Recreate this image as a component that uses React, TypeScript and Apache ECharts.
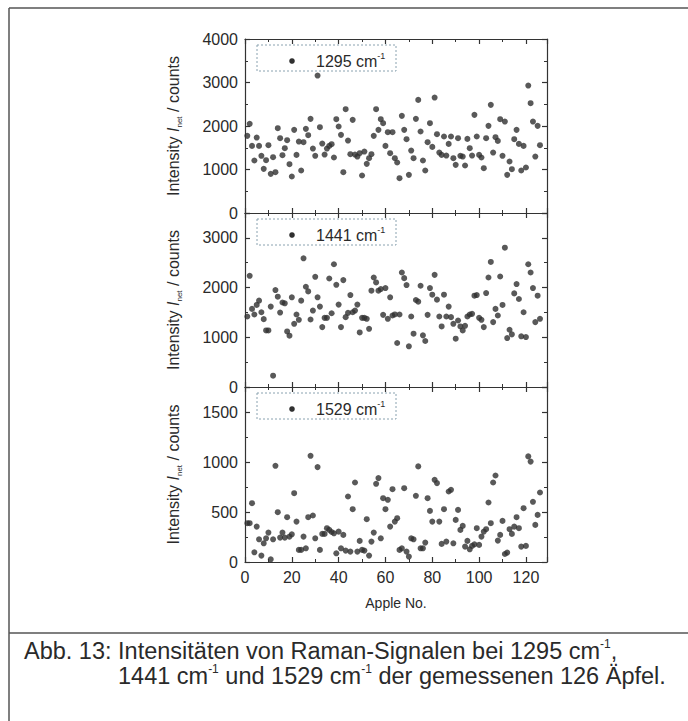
import React, { useEffect, useRef } from 'react';
import * as echarts from 'echarts';

const s1295 = [1773,2049,1543,1207,1735,1543,1314,1015,1214,1559,900,1283,938,1950,1720,1329,1490,1674,1122,839,1911,1336,1643,977,1628,1934,1789,2164,1482,1314,3160,1973,1597,1344,1482,1543,1582,1276,2156,1988,1796,938,2386,1666,1352,2141,1344,1298,1375,862,1413,1130,1260,1352,1773,2386,1911,2156,2064,1543,1858,1375,1858,1260,1161,801,2233,1911,1697,877,1436,1260,2164,2600,1873,1207,977,1628,2064,1520,2654,1812,1390,1336,1758,1321,1589,1758,1260,1107,1720,1314,1298,1092,1704,1490,1321,2256,1758,1336,1276,1030,1720,2003,2486,1390,1743,1658,2156,1314,2102,877,1184,1007,1697,1911,1589,977,1543,1046,2930,2524,2102,1298,2003,1559];

const s1441 = [1418,2236,1571,1458,1651,1737,1504,1365,1138,1138,1617,227,1950,1817,1498,1700,1684,1118,1032,1804,1271,1458,1351,1737,2589,2017,1923,1358,1538,2216,1804,1617,1205,1391,1391,2183,1484,2469,2056,1657,1205,2150,1405,1491,1850,1504,1538,1657,1098,1391,1391,1371,1171,1937,2203,2103,1937,1970,1451,1990,1371,1804,1438,1460,885,1458,2303,2190,2050,819,1418,1072,1750,1717,2037,1039,925,1451,1990,1857,2256,1757,1418,1218,1857,1418,1617,1405,1271,972,1338,1218,1138,1231,1418,1458,1471,1837,1850,1391,1351,1205,1890,2203,2516,1305,1571,1438,2223,1651,2802,985,1152,1059,1883,2070,1770,1019,1504,1005,2469,2303,1990,1305,1837,1371];

const s1529 = [388,388,588,97,354,227,64,187,237,294,27,227,962,498,244,294,244,448,254,277,688,404,121,121,254,137,448,1062,465,237,949,121,281,281,338,321,300,287,87,304,137,271,114,655,104,528,795,104,211,121,114,428,64,204,294,782,839,237,638,528,622,354,728,404,438,121,137,738,104,54,237,227,662,956,137,137,194,638,511,404,822,789,404,181,528,204,705,722,187,421,521,321,361,154,211,127,161,177,338,171,254,304,328,595,388,795,865,214,271,411,80,94,328,281,354,448,338,154,538,161,1056,1004,602,371,471,695];

const seriesNames = ['1295', '1441', '1529'];
const seriesValues = [s1295, s1441, s1529];
const yMax = [4000, 3500, 1750];
const yInterval = [1000, 1000, 500];
const xMax = 129;
const xInterval = 20;
const xName = 'Apple No.';
const captionLine1 = 'Abb. 13: Intensitäten von Raman-Signalen bei 1295 cm';
const captionLine2a = '1441 cm';
const captionLine2b = ' und 1529 cm';
const captionLine2c = ' der gemessenen 126 Äpfel.';

const FONT = '"Liberation Sans", Arial, Helvetica, sans-serif';
const INK = '#2a2a2a';

export default function App() {
  const ref = useRef<HTMLDivElement>(null);
  useEffect(() => {
    document.body.style.margin = '0';
    const chart = echarts.init(ref.current!, null, { renderer: 'svg' });
    const panelTops = [39, 213, 387];
    const panelHeights = [174, 174, 175];
    const gridLeft = 245;
    const gridWidth = 302;

    const grid: any[] = [];
    const xAxis: any[] = [];
    const yAxis: any[] = [];
    const series: any[] = [];
    const graphic: any[] = [];

    const axisLine = () => ({ show: true, onZero: false, lineStyle: { color: '#333', width: 1.2 } });
    const tick = () => ({ show: true, inside: true, length: 5, lineStyle: { color: '#333', width: 1.2 } });
    const minor = () => ({ show: true, splitNumber: 2, length: 3, lineStyle: { color: '#333', width: 1 } });
    const fmt = (v: number) => String(v);

    for (let p = 0; p < 3; p++) {
      grid.push({ left: gridLeft, width: gridWidth, top: panelTops[p], height: panelHeights[p], containLabel: false });
      const isLast = p === 2;
      xAxis.push({
        type: 'value', gridIndex: p, position: 'bottom', min: 0, max: xMax, interval: xInterval,
        axisLine: axisLine(), axisTick: tick(), minorTick: minor(), splitLine: { show: false },
        axisLabel: { show: isLast, showMaxLabel: false, formatter: fmt, fontSize: 16, fontFamily: FONT, color: INK, margin: 7 },
        name: isLast ? xName : '', nameLocation: 'middle', nameGap: 34,
        nameTextStyle: { fontSize: 14, fontFamily: FONT, color: INK },
      });
      xAxis.push({
        type: 'value', gridIndex: p, position: 'top', min: 0, max: xMax, interval: xInterval,
        axisLine: axisLine(), axisTick: tick(), minorTick: minor(), splitLine: { show: false }, axisLabel: { show: false },
      });
      yAxis.push({
        type: 'value', gridIndex: p, position: 'left', min: 0, max: yMax[p], interval: yInterval[p],
        axisLine: axisLine(), axisTick: tick(), minorTick: minor(), splitLine: { show: false },
        axisLabel: { showMaxLabel: p === 0, formatter: fmt, fontSize: 16, fontFamily: FONT, color: INK, margin: 7 },
        name: '{n|Intensity }{i|I}{s|net}{n| / counts}', nameLocation: 'middle', nameGap: 62,
        nameTextStyle: {
          fontFamily: FONT, color: INK,
          rich: {
            n: { fontSize: 16, fontFamily: FONT, color: INK, lineHeight: 20 },
            i: { fontSize: 16, fontFamily: FONT, color: INK, fontStyle: 'italic', lineHeight: 20 },
            s: { fontSize: 8, fontFamily: FONT, color: INK, verticalAlign: 'bottom', lineHeight: 12 },
          },
        },
      });
      yAxis.push({
        type: 'value', gridIndex: p, position: 'right', min: 0, max: yMax[p], interval: yInterval[p],
        axisLine: axisLine(), axisTick: tick(), minorTick: minor(), splitLine: { show: false }, axisLabel: { show: false },
      });
      series.push({
        type: 'scatter', name: seriesNames[p], xAxisIndex: p * 2, yAxisIndex: p * 2,
        symbol: 'circle', symbolSize: 6, itemStyle: { color: '#303030' },
        data: seriesValues[p].map((v, i) => [i + 1, v]),
      });
      const bt = panelTops[p] + 6;
      graphic.push({
        type: 'rect', shape: { x: 257, y: bt, width: 139, height: 26 },
        style: { fill: 'none', stroke: '#8aa2b0', lineWidth: 1, lineDash: [2, 2] },
      });
      graphic.push({ type: 'circle', shape: { cx: 292, cy: bt + 16, r: 2.8 }, style: { fill: '#303030' } });
      graphic.push({
        type: 'text', x: 316, y: bt + 16,
        style: {
          text: `{a|${seriesNames[p]} cm}{s|-1}`, verticalAlign: 'middle',
          rich: {
            a: { fontSize: 16, fontFamily: FONT, fill: INK, lineHeight: 20 },
            s: { fontSize: 9, fontFamily: FONT, fill: INK, verticalAlign: 'top', lineHeight: 10 },
          },
        },
      });
    }

    // frame
    const frame = { stroke: '#555', lineWidth: 1.5 };
    graphic.push({ type: 'line', shape: { x1: 9, y1: 8, x2: 700, y2: 8 }, style: frame });
    graphic.push({ type: 'line', shape: { x1: 9, y1: 8, x2: 9, y2: 721 }, style: frame });
    graphic.push({ type: 'line', shape: { x1: 9, y1: 633, x2: 700, y2: 633 }, style: frame });

    const capRich = {
      a: { fontSize: 23.5, fontFamily: FONT, fill: INK, lineHeight: 25 },
      s: { fontSize: 12, fontFamily: FONT, fill: INK, verticalAlign: 'top', lineHeight: 20 },
      ind: { fontSize: 23.5, width: 94, lineHeight: 25 },
    };
    graphic.push({
      type: 'text', x: 24, y: 638,
      style: {
        text: `{a|${captionLine1}}{s|-1}{a|,}\n{ind| }{a|${captionLine2a}}{s|-1}{a|${captionLine2b}}{s|-1}{a|${captionLine2c}}`,
        verticalAlign: 'top', rich: capRich,
      },
    });

    chart.setOption({
      animation: false,
      backgroundColor: '#fff',
      grid, xAxis, yAxis, series, graphic,
    });
    return () => chart.dispose();
  }, []);
  return <div ref={ref} style={{ width: 688, height: 721 }} />;
}
